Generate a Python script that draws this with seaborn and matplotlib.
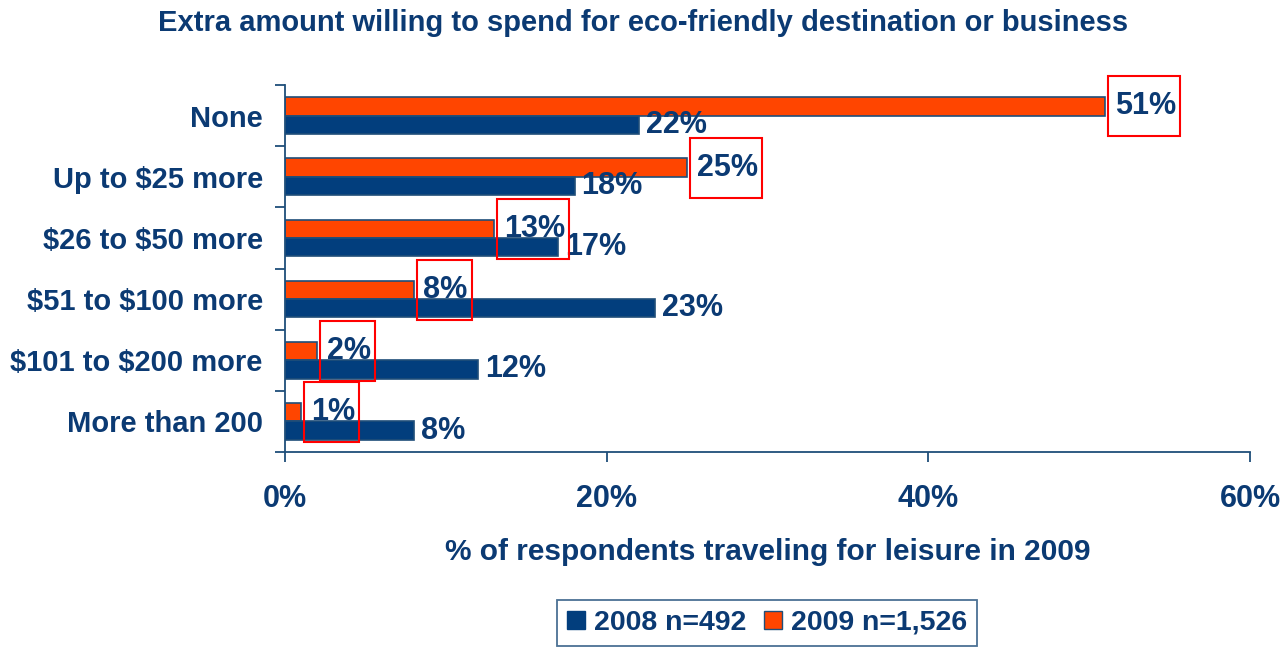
import pandas as pd
import seaborn as sns
import matplotlib.pyplot as plt
from matplotlib.patches import Rectangle
from matplotlib.transforms import IdentityTransform

categories = ['None', 'Up to $25 more', '$26 to $50 more', '$51 to $100 more',
              '$101 to $200 more', 'More than 200']
vals_2008 = [22, 18, 17, 23, 12, 8]
vals_2009 = [51, 25, 13, 8, 2, 1]
series = ['2009 n=1,526', '2008 n=492']

df = pd.DataFrame({
    'category': categories * 2,
    'series': [series[0]] * len(categories) + [series[1]] * len(categories),
    'value': vals_2009 + vals_2008,
})

blue = '#023E7D'
orange = '#FF4500'
txt = '#0B3A73'
palette = {series[0]: orange, series[1]: blue}

sns.set_style('white')
plt.rcParams['font.family'] = ['Liberation Sans', 'DejaVu Sans']
plt.rcParams['font.weight'] = 'bold'
plt.rcParams['text.parse_math'] = False

fig = plt.figure(figsize=(12.86, 6.49), dpi=100)
ax = fig.add_axes([285 / 1286, 1 - 452 / 649, (1250 - 285) / 1286, (452 - 85) / 649])

sns.barplot(data=df, y='category', x='value', hue='series', hue_order=series,
            palette=palette, orient='h', width=0.6, edgecolor='#1F4E79',
            linewidth=1.2, saturation=1, ax=ax, legend=False)

ax.set_xlim(0, 60)
ax.set_ylim(len(categories) - 0.5, -0.5)
ax.set_xticks([0, 20, 40, 60])
ax.set_xticklabels(['0%', '20%', '40%', '60%'])
ax.set_yticks(range(len(categories)))
ax.set_yticklabels(categories)
ax.set_yticks([i - 0.5 for i in range(len(categories) + 1)], minor=True)
ax.tick_params(axis='y', which='major', length=0, pad=16, labelsize=21, labelcolor=txt)
ax.tick_params(axis='y', which='minor', left=True, length=7, width=1.3, color='#1F4E79')
ax.tick_params(axis='x', which='major', bottom=True, length=7, width=1.3, color='#1F4E79',
               pad=16, labelsize=22, labelcolor=txt)
for lab in ax.get_xticklabels() + ax.get_yticklabels():
    lab.set_fontweight('bold')

sns.despine(ax=ax)
for s in ['left', 'bottom']:
    ax.spines[s].set_color('#1F4E79')
    ax.spines[s].set_linewidth(1.3)

ax.set_xlabel('% of respondents traveling for leisure in 2009', fontsize=21.5,
              fontweight='bold', color=txt, labelpad=17)
ax.set_ylabel('')
fig.suptitle('Extra amount willing to spend for eco-friendly destination or business',
             x=0.5, y=1 - 23 / 649, va='center', fontsize=21, fontweight='bold', color=txt)

# value labels
orange_bars, blue_bars = ax.containers[0], ax.containers[1]
ax.bar_label(blue_bars, labels=[f'{v}%' for v in vals_2008], padding=5,
             fontsize=22, fontweight='bold', color=txt)
orange_labels = ax.bar_label(orange_bars, labels=[f'{v}%' for v in vals_2009], padding=7,
                             fontsize=22, fontweight='bold', color=txt, zorder=5)

# red boxes around 2009 labels
fig.canvas.draw()
for lab, bar in zip(orange_labels, orange_bars):
    tb = lab.get_window_extent()
    bb = bar.get_window_extent()
    cy = (bb.y0 + bb.y1) / 2
    x0 = bb.x1 + 3
    x1 = tb.x1 + 4
    fig.add_artist(Rectangle((x0, cy - 30), x1 - x0, 60, transform=IdentityTransform(),
                             fill=False, edgecolor='#FF0000', linewidth=1.5, zorder=6))

handles = [Rectangle((0, 0), 1, 1, facecolor=blue, edgecolor=blue),
           Rectangle((0, 0), 1, 1, facecolor=orange, edgecolor='#1F4E79')]
leg = fig.legend(handles, [series[1], series[0]], loc='upper center', ncol=2,
                 bbox_to_anchor=(767 / 1286, 1 - 600 / 649), borderaxespad=0,
                 fancybox=False, edgecolor='#1F4E79', handlelength=0.63,
                 handleheight=0.63, handletextpad=0.32, columnspacing=0.6,
                 borderpad=0.35, prop={'size': 20.5, 'weight': 'bold'})
for t in leg.get_texts():
    t.set_color(txt)
leg.get_frame().set_linewidth(1.3)

fig.savefig('out.png', dpi=100)
